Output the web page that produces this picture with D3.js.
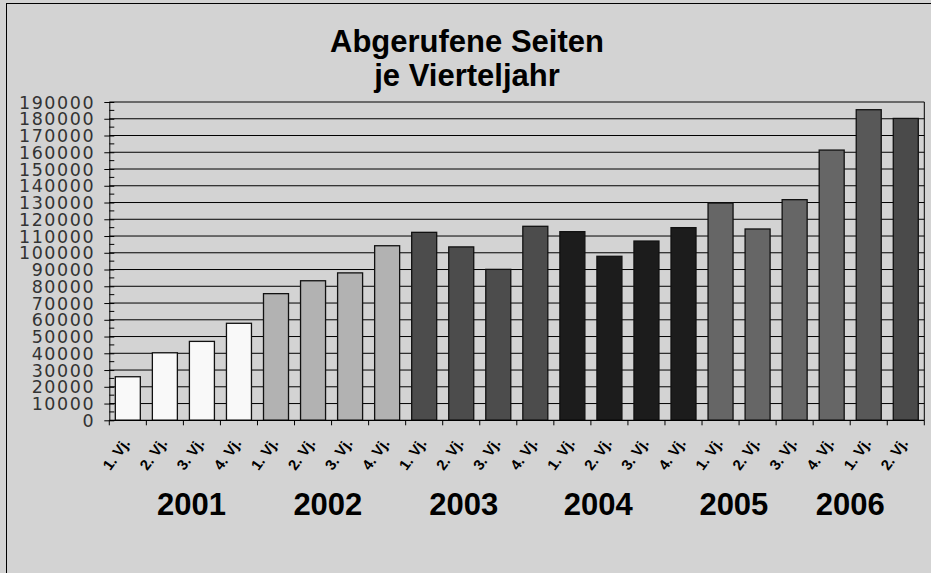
<!DOCTYPE html>
<html>
<head>
<meta charset="utf-8">
<script src="https://cdn.jsdelivr.net/npm/d3@7"></script>
<style>
  html, body { margin: 0; padding: 0; background: #d3d3d3; }
  svg { display: block; }
</style>
</head>
<body>
<svg id="chart" width="931" height="573"></svg>
<script>
// ---- data ----
const quarterLabels = ["1. Vj.","2. Vj.","3. Vj.","4. Vj.",
                       "1. Vj.","2. Vj.","3. Vj.","4. Vj.",
                       "1. Vj.","2. Vj.","3. Vj.","4. Vj.",
                       "1. Vj.","2. Vj.","3. Vj.","4. Vj.",
                       "1. Vj.","2. Vj.","3. Vj.","4. Vj.",
                       "1. Vj.","2. Vj."];
const pageViews = [26000, 40300, 47100, 57900,
                   75600, 83300, 88000, 104200,
                   112200, 103500, 90100, 115800,
                   112600, 97900, 107000, 115000,
                   129700, 114200, 131700, 161300,
                   185400, 180200];
const barColors = ["#f9f9f9","#f9f9f9","#f9f9f9","#f9f9f9",
                   "#b2b2b2","#b2b2b2","#b2b2b2","#b2b2b2",
                   "#4c4c4c","#4c4c4c","#4c4c4c","#4c4c4c",
                   "#1c1c1c","#1c1c1c","#1c1c1c","#1c1c1c",
                   "#666666","#666666","#666666","#666666",
                   "#585858","#4a4a4a"];
const yearLabels = ["2001","2002","2003","2004","2005","2006"];
const yearLabelPos = [2.22, 5.9, 9.57, 13.2, 16.86, 20.0]; // in category units
const yTickValues = d3.range(0, 190001, 10000);
const titleLines = ["Abgerufene Seiten", "je Vierteljahr"];

// ---- layout ----
const svg = d3.select("#chart");
const plot = { left: 109.3, right: 924.3, top: 102, bottom: 420.3 };
const n = pageViews.length;
const keys = d3.range(n);

const x = d3.scaleBand()
  .domain(keys)
  .range([plot.left, plot.right])
  .paddingInner(0.325)
  .paddingOuter(0.1625);
const xLin = d3.scaleLinear().domain([0, n]).range([plot.left, plot.right]);
const y = d3.scaleLinear().domain([0, 190000]).range([plot.bottom, plot.top]);

// background + outer border
svg.append("rect").attr("x", 0).attr("y", 0).attr("width", 931).attr("height", 573).attr("fill", "#d3d3d3");
svg.append("rect").attr("x", 6.5).attr("y", 3.5).attr("width", 1200).attr("height", 1200)
  .attr("fill", "none").attr("stroke", "#000").attr("stroke-width", 1);

// gridlines
svg.append("g").selectAll("line").data(yTickValues.filter(v => v > 0)).join("line")
  .attr("x1", plot.left).attr("x2", plot.right)
  .attr("y1", d => y(d)).attr("y2", d => y(d))
  .attr("stroke", "#000").attr("stroke-width", 1);

// plot right border
svg.append("line").attr("x1", plot.right).attr("x2", plot.right)
  .attr("y1", plot.top).attr("y2", plot.bottom)
  .attr("stroke", "#000").attr("stroke-width", 1);

// bars
svg.append("g").selectAll("rect").data(keys).join("rect")
  .attr("x", i => x(i))
  .attr("width", x.bandwidth())
  .attr("y", i => y(pageViews[i]))
  .attr("height", i => y(0) - y(pageViews[i]))
  .attr("fill", i => barColors[i])
  .attr("stroke", "#111").attr("stroke-width", 1.3);

// y axis
const yAxis = d3.axisLeft(y).tickValues(yTickValues).tickSizeOuter(0).tickSizeInner(5).tickPadding(10)
  .tickFormat(d3.format("d"));
const gy = svg.append("g").attr("transform", `translate(${plot.left},0)`).call(yAxis);
gy.select(".domain").attr("stroke", "#000");
gy.selectAll(".tick line").attr("stroke", "#000").attr("x2", 5).attr("x1", -5);
gy.selectAll(".tick text")
  .attr("x", -14)
  .attr("dy", "0.35em")
  .attr("fill", "#333")
  .style("font-family", "'DejaVu Sans', sans-serif")
  .style("font-size", "17.5px")
  .style("letter-spacing", "1.6px");
// minor ticks
svg.append("g").selectAll("line").data(d3.range(5000, 190000, 10000)).join("line")
  .attr("x1", plot.left).attr("x2", plot.left + 5)
  .attr("y1", d => y(d)).attr("y2", d => y(d))
  .attr("stroke", "#000");

// x axis line + ticks
svg.append("line").attr("x1", plot.left).attr("x2", plot.right)
  .attr("y1", plot.bottom).attr("y2", plot.bottom).attr("stroke", "#000").attr("stroke-width", 1.3);
svg.append("g").selectAll("line").data(d3.range(n + 1)).join("line")
  .attr("x1", i => xLin(i)).attr("x2", i => xLin(i))
  .attr("y1", plot.bottom).attr("y2", plot.bottom + 5)
  .attr("stroke", "#000");

// x category labels
svg.append("g").selectAll("text").data(keys).join("text")
  .attr("transform", i => `translate(${x(i) + x.bandwidth() / 2 + 3},443) rotate(-54)`)
  .attr("text-anchor", "end")
  .style("font-family", "'Liberation Sans', Arial, sans-serif")
  .style("font-weight", "bold")
  .style("font-size", "15px")
  .attr("fill", "#000")
  .text(i => quarterLabels[i]);

// year labels
svg.append("g").selectAll("text").data(yearLabels).join("text")
  .attr("x", (d, i) => xLin(yearLabelPos[i]))
  .attr("y", 515)
  .attr("text-anchor", "middle")
  .style("font-family", "'Liberation Sans', Arial, sans-serif")
  .style("font-weight", "bold")
  .style("font-size", "31px")
  .attr("fill", "#000")
  .text(d => d);

// title
svg.append("g").selectAll("text").data(titleLines).join("text")
  .attr("x", 467)
  .attr("y", (d, i) => 51.7 + i * 34)
  .attr("text-anchor", "middle")
  .style("font-family", "'Liberation Sans', Arial, sans-serif")
  .style("font-weight", "bold")
  .style("font-size", "31px")
  .attr("fill", "#000")
  .text(d => d);
</script>
</body>
</html>
